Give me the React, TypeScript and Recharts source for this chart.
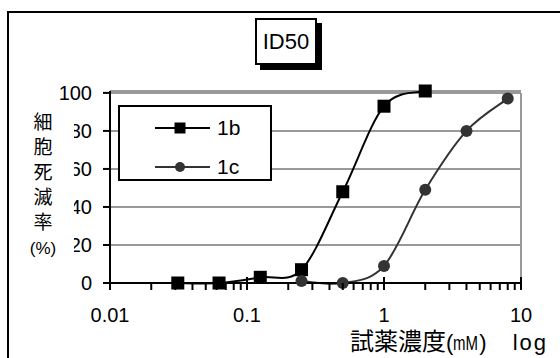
import { LineChart, Line, XAxis, YAxis, CartesianGrid, Legend, ReferenceLine } from 'recharts'

// 濃度 (mM) と細胞死滅率 (%)
const dose1b = [0.03125, 0.0625, 0.125, 0.25, 0.5, 1, 2]
const kill1b = [0, 0, 3, 7, 48, 93, 101]
const dose1c = [0.25, 0.5, 1, 2, 4, 8]
const kill1c = [1, 0, 9, 49, 80, 97]

const xTicks = [
  0.01, 0.02, 0.03, 0.04, 0.05, 0.06, 0.07, 0.08, 0.09,
  0.1, 0.2, 0.3, 0.4, 0.5, 0.6, 0.7, 0.8, 0.9,
  1, 2, 3, 4, 5, 6, 7, 8, 9, 10,
]
const majorTicks = [0.01, 0.1, 1, 10]
const yTicks = [0, 20, 40, 60, 80, 100]
const yTitle = ['細', '胞', '死', '滅', '率']

const data1b = dose1b.map((dose, i) => ({ dose, kill: kill1b[i] }))
const data1c = dose1c.map((dose, i) => ({ dose, kill: kill1c[i] }))

const latin = '"Liberation Sans", Arial, sans-serif'
const cjk = '"Noto Sans CJK JP", "Noto Sans CJK TC", sans-serif'

// Excel style smoothed line (cardinal spline, tension 0)
const excelSmooth = (context: any) => {
  let pts: number[][] = []
  return {
    areaStart() {},
    areaEnd() {},
    lineStart() { pts = [] },
    point(x: number, y: number) { pts.push([+x, +y]) },
    lineEnd() {
      if (!pts.length) return
      context.moveTo(pts[0][0], pts[0][1])
      for (let i = 0; i < pts.length - 1; i++) {
        const p0 = pts[i - 1] || pts[i]
        const p1 = pts[i]
        const p2 = pts[i + 1]
        const p3 = pts[i + 2] || p2
        context.bezierCurveTo(
          p1[0] + (p2[0] - p0[0]) / 6, p1[1] + (p2[1] - p0[1]) / 6,
          p2[0] - (p3[0] - p1[0]) / 6, p2[1] - (p3[1] - p1[1]) / 6,
          p2[0], p2[1],
        )
      }
    },
  }
}

const XTick = (props: any) => {
  const { x, y, payload } = props
  const v = payload.value
  const major = majorTicks.some((m) => Math.abs(m - v) < 1e-9)
  return (
    <g>
      <line x1={x} x2={x} y1={major ? y - 6 : y} y2={y + 7} stroke="#000" strokeWidth={2} />
      {major && (
        <text x={x} y={y + 39} textAnchor="middle" fontSize={20} fontFamily={latin} fill="#000">
          {String(v)}
        </text>
      )}
    </g>
  )
}

const squareDot = (p: any) => (
  <rect key={`sq-${p.index}`} x={p.cx - 6.5} y={p.cy - 6.5} width={13} height={13} fill="#000" />
)
const circleDot = (p: any) => (
  <circle key={`ci-${p.index}`} cx={p.cx} cy={p.cy} r={6} fill="#333" />
)

const LegendBox = ({ payload }: any) => (
  <div
    style={{
      width: 154, height: 76, boxSizing: 'border-box', border: '2px solid #000',
      background: '#fff', position: 'relative',
    }}
  >
    {(payload || []).map((e: any, i: number) => (
      <div
        key={e.value}
        style={{ position: 'absolute', left: 35, top: 6 + i * 39, height: 30, display: 'flex', alignItems: 'center' }}
      >
        <svg width={55} height={14}>
          <line x1={0} x2={55} y1={7} y2={7} stroke={e.color} strokeWidth={2} />
          {e.type === 'square'
            ? <rect x={19.5} y={1.5} width={11} height={11} fill={e.color} />
            : <circle cx={25} cy={7} r={5} fill={e.color} />}
        </svg>
        <span style={{ marginLeft: 7, fontSize: 21, fontFamily: latin, color: '#000', lineHeight: '30px' }}>
          {e.value}
        </span>
      </div>
    ))}
  </div>
)

export default function App() {
  return (
    <div style={{ position: 'absolute', left: 0, top: 0, width: 560, height: 358, overflow: 'hidden', background: '#fff' }}>
      <div
        style={{
          position: 'absolute', left: 7, top: 11, width: 700, height: 500,
          borderTop: '2px solid #000', borderLeft: '2px solid #000',
        }}
      />
      <LineChart width={560} height={358} margin={{ top: 91, right: 39, left: 70, bottom: 35 }}>
        <CartesianGrid vertical={false} stroke="#999" strokeWidth={2} />
        <XAxis
          type="number"
          dataKey="dose"
          scale="log"
          domain={[0.01, 10]}
          ticks={xTicks}
          interval={0}
          tickSize={0}
          tickMargin={0}
          tickLine={false}
          tick={XTick}
          axisLine={{ stroke: '#000', strokeWidth: 2 }}
          height={40}
        />
        <YAxis
          type="number"
          domain={[0, 'dataMax']}
          ticks={yTicks}
          interval={0}
          tickSize={7}
          tickMargin={11}
          tickLine={{ stroke: '#000', strokeWidth: 2 }}
          axisLine={{ stroke: '#000', strokeWidth: 2 }}
          tick={{ fontSize: 20, fill: '#000', fontFamily: latin }}
          width={40}
        />
        <ReferenceLine segment={[{ x: 10, y: 0 }, { x: 10, y: 100 }]} stroke="#999" strokeWidth={2} />
        <Legend
          layout="vertical"
          align="center"
          verticalAlign="middle"
          content={LegendBox}
          wrapperStyle={{ left: 118, top: 105, width: 154, height: 76 }}
        />
        <Line
          data={data1b}
          dataKey="kill"
          name="1b"
          type={excelSmooth as any}
          stroke="#000"
          strokeWidth={2}
          dot={squareDot}
          legendType="square"
          isAnimationActive={false}
        />
        <Line
          data={data1c}
          dataKey="kill"
          name="1c"
          type={excelSmooth as any}
          stroke="#333"
          strokeWidth={2}
          dot={circleDot}
          legendType="circle"
          isAnimationActive={false}
        />
      </LineChart>
      <div
        style={{
          position: 'absolute', left: 255, top: 18, width: 62, height: 47, boxSizing: 'border-box',
          border: '2px solid #000', background: '#fff', boxShadow: '5px 5px 0 #000',
          fontFamily: latin, fontSize: 22, lineHeight: '43px', textAlign: 'center', color: '#000',
        }}
      >
        ID50
      </div>
      <div
        style={{
          position: 'absolute', left: 24, top: 107, width: 50, height: 152, background: '#fff',
          color: '#000', boxSizing: 'border-box',
        }}
      >
        {yTitle.map((ch, i) => (
          <div
            key={ch}
            style={{
              position: 'absolute', left: 0, width: 38, top: 2 + i * 25, height: 24,
              fontFamily: cjk, fontSize: 19, lineHeight: '24px', textAlign: 'center',
            }}
          >
            {ch}
          </div>
        ))}
        <div
          style={{
            position: 'absolute', left: 0, width: 38, top: 132, height: 20,
            fontFamily: latin, fontSize: 17, lineHeight: '20px', textAlign: 'center',
          }}
        >
          (%)
        </div>
      </div>
      <div
        style={{
          position: 'absolute', left: 350, top: 328, whiteSpace: 'nowrap', color: '#000',
          fontSize: 24, lineHeight: '24px', height: 24, fontFamily: cjk,
        }}
      >
        <span>試薬濃度</span>
        <span style={{ fontFamily: latin, fontSize: 22 }}>(</span>
        <span
          style={{
            fontFamily: latin, fontSize: 20, display: 'inline-block', transform: 'scaleX(0.75)',
            transformOrigin: 'left', width: 26,
          }}
        >
          mM
        </span>
        <span style={{ fontFamily: latin, fontSize: 22 }}>)</span>
        <span style={{ fontFamily: latin, fontSize: 22, marginLeft: 26, letterSpacing: 2 }}>log</span>
      </div>
    </div>
  )
}
